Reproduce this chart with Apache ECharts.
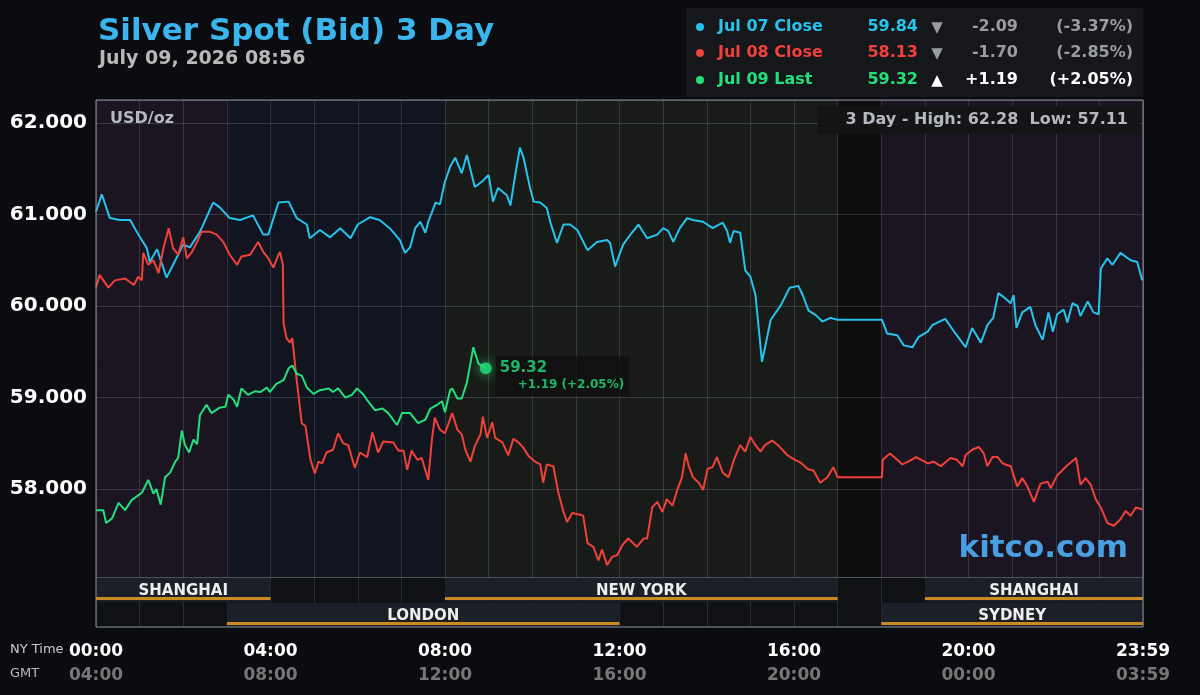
<!DOCTYPE html>
<html>
<head>
<meta charset="utf-8">
<title>Silver Spot (Bid) 3 Day</title>
<script src="https://cdn.jsdelivr.net/npm/echarts@6/dist/echarts.min.js"></script>
<style>
    html, body { margin: 0; padding: 0; background: #0b0c10; }
    #chart { width: 1200px; height: 695px; }
</style>
</head>
<body>
<div id="chart"></div>
<script>
var FONT = '"DejaVu Sans", sans-serif';
var BLUE = '#27c3ec';
var RED = '#f0413a';
var GREEN = '#22e07c';

// minutes after 00:00 NY time, price in USD/oz
var jul07Min = [0, 8, 19, 33, 47, 56, 70, 74, 84, 97, 106, 120, 129, 143, 161, 170, 184, 198, 216, 230, 237, 251, 265, 276, 290, 294, 308, 322, 336, 350, 360, 377, 390, 404, 418, 425, 432, 439, 446, 453, 457, 467, 473, 480, 487, 494, 503, 510, 521, 531, 540, 546, 553, 565, 570, 577, 583, 588, 597, 602, 611, 620, 625, 634, 643, 652, 662, 676, 689, 703, 707, 714, 718, 725, 735, 746, 758, 772, 780, 787, 794, 803, 813, 821, 835, 848, 862, 868, 872, 877, 886, 893, 900, 907, 916, 928, 942, 954, 966, 972, 980, 990, 999, 1010, 1020, 1081, 1088, 1102, 1111, 1123, 1131, 1144, 1150, 1168, 1182, 1196, 1205, 1217, 1226, 1234, 1241, 1248, 1258, 1262, 1266, 1274, 1285, 1292, 1302, 1310, 1316, 1322, 1331, 1336, 1343, 1350, 1354, 1364, 1372, 1379, 1382, 1391, 1398, 1409, 1423, 1432, 1439];
var jul07Price = [61.03, 61.22, 60.96, 60.94, 60.94, 60.81, 60.63, 60.48, 60.62, 60.31, 60.45, 60.67, 60.64, 60.81, 61.13, 61.08, 60.96, 60.94, 60.99, 60.78, 60.78, 61.13, 61.14, 60.96, 60.89, 60.74, 60.83, 60.75, 60.85, 60.74, 60.89, 60.97, 60.94, 60.85, 60.72, 60.58, 60.64, 60.85, 60.92, 60.80, 60.92, 61.13, 61.11, 61.36, 61.52, 61.62, 61.45, 61.65, 61.30, 61.36, 61.43, 61.14, 61.29, 61.21, 61.10, 61.45, 61.73, 61.62, 61.29, 61.14, 61.13, 61.07, 60.91, 60.69, 60.89, 60.89, 60.83, 60.61, 60.70, 60.72, 60.69, 60.43, 60.52, 60.67, 60.78, 60.89, 60.74, 60.78, 60.85, 60.82, 60.70, 60.85, 60.96, 60.94, 60.92, 60.85, 60.91, 60.82, 60.69, 60.82, 60.80, 60.39, 60.32, 60.12, 59.39, 59.85, 60.01, 60.20, 60.22, 60.12, 59.95, 59.90, 59.83, 59.87, 59.85, 59.85, 59.70, 59.68, 59.57, 59.55, 59.66, 59.72, 59.79, 59.86, 59.70, 59.55, 59.76, 59.60, 59.79, 59.87, 60.14, 60.10, 60.03, 60.12, 59.76, 59.93, 59.99, 59.79, 59.63, 59.93, 59.72, 59.91, 59.96, 59.82, 60.03, 60.00, 59.89, 60.05, 59.93, 59.91, 60.41, 60.52, 60.45, 60.58, 60.50, 60.48, 60.28];

var jul08Min = [0, 5, 17, 26, 40, 52, 58, 63, 65, 72, 79, 86, 93, 100, 106, 113, 120, 125, 132, 139, 145, 157, 166, 175, 184, 194, 200, 212, 223, 230, 237, 244, 251, 253, 257, 258, 262, 267, 270, 276, 283, 288, 295, 301, 306, 311, 317, 326, 333, 340, 347, 356, 363, 373, 380, 388, 395, 409, 416, 423, 428, 434, 442, 448, 457, 462, 466, 473, 480, 490, 497, 503, 508, 515, 521, 529, 532, 538, 545, 549, 559, 567, 574, 581, 588, 595, 604, 611, 615, 620, 629, 636, 643, 648, 655, 666, 670, 676, 684, 691, 696, 703, 710, 717, 724, 732, 744, 753, 758, 765, 772, 779, 785, 793, 799, 806, 811, 815, 821, 829, 835, 841, 848, 854, 862, 870, 877, 886, 893, 900, 907, 914, 920, 930, 938, 951, 959, 969, 979, 987, 996, 1006, 1014, 1020, 1081, 1082, 1092, 1102, 1109, 1117, 1128, 1144, 1152, 1162, 1175, 1184, 1192, 1196, 1205, 1214, 1221, 1226, 1233, 1240, 1247, 1258, 1267, 1274, 1281, 1290, 1299, 1309, 1313, 1322, 1336, 1348, 1354, 1361, 1368, 1375, 1382, 1391, 1400, 1409, 1416, 1423, 1430, 1439];
var jul08Price = [60.20, 60.34, 60.20, 60.28, 60.30, 60.23, 60.32, 60.28, 60.58, 60.45, 60.50, 60.36, 60.64, 60.85, 60.63, 60.56, 60.75, 60.52, 60.59, 60.70, 60.81, 60.81, 60.78, 60.70, 60.56, 60.45, 60.54, 60.56, 60.70, 60.59, 60.52, 60.42, 60.56, 60.59, 60.45, 59.81, 59.65, 59.60, 59.65, 59.19, 58.72, 58.69, 58.32, 58.17, 58.30, 58.28, 58.40, 58.43, 58.61, 58.50, 58.48, 58.23, 58.40, 58.35, 58.62, 58.40, 58.52, 58.51, 58.42, 58.42, 58.21, 58.42, 58.32, 58.34, 58.10, 58.54, 58.78, 58.65, 58.61, 58.83, 58.65, 58.60, 58.43, 58.30, 58.47, 58.60, 58.79, 58.56, 58.73, 58.56, 58.51, 58.37, 58.55, 58.51, 58.45, 58.36, 58.30, 58.27, 58.07, 58.27, 58.25, 57.96, 57.75, 57.64, 57.74, 57.72, 57.71, 57.41, 57.37, 57.22, 57.34, 57.17, 57.26, 57.28, 57.39, 57.46, 57.37, 57.46, 57.46, 57.80, 57.86, 57.75, 57.89, 57.82, 57.98, 58.13, 58.39, 58.26, 58.13, 58.07, 57.99, 58.22, 58.24, 58.35, 58.18, 58.13, 58.31, 58.48, 58.41, 58.57, 58.48, 58.41, 58.48, 58.53, 58.48, 58.37, 58.33, 58.29, 58.22, 58.20, 58.07, 58.13, 58.24, 58.13, 58.13, 58.32, 58.39, 58.32, 58.27, 58.30, 58.35, 58.28, 58.30, 58.25, 58.34, 58.32, 58.25, 58.37, 58.43, 58.46, 58.39, 58.25, 58.35, 58.35, 58.28, 58.25, 58.03, 58.12, 58.03, 57.86, 58.06, 58.08, 58.01, 58.15, 58.26, 58.34, 58.05, 58.12, 58.05, 57.89, 57.80, 57.63, 57.60, 57.67, 57.76, 57.71, 57.80, 57.78];

var jul09Min = [0, 10, 14, 22, 31, 40, 49, 63, 72, 79, 83, 89, 95, 102, 109, 113, 118, 122, 128, 134, 139, 143, 152, 159, 170, 178, 182, 189, 194, 200, 209, 219, 226, 235, 239, 248, 258, 265, 270, 276, 283, 290, 299, 308, 320, 326, 333, 343, 352, 359, 368, 374, 384, 394, 402, 414, 421, 432, 443, 453, 460, 469, 476, 480, 487, 490, 497, 503, 510, 519, 526, 536];
var jul09Price = [57.77, 57.77, 57.63, 57.68, 57.85, 57.77, 57.88, 57.96, 58.10, 57.95, 58.00, 57.83, 58.13, 58.18, 58.30, 58.34, 58.64, 58.49, 58.40, 58.54, 58.49, 58.81, 58.92, 58.83, 58.89, 58.90, 59.03, 58.98, 58.90, 59.10, 59.03, 59.07, 59.06, 59.11, 59.06, 59.15, 59.19, 59.32, 59.35, 59.26, 59.24, 59.11, 59.04, 59.08, 59.10, 59.06, 59.10, 59.00, 59.03, 59.10, 59.03, 58.96, 58.86, 58.88, 58.83, 58.70, 58.83, 58.83, 58.72, 58.76, 58.88, 58.92, 58.96, 58.84, 59.08, 59.10, 58.99, 58.99, 59.16, 59.55, 59.37, 59.32];

var legendNames = ['Jul 07 Close', 'Jul 08 Close', 'Jul 09 Last'];
var legendPrices = ['59.84', '58.13', '59.32'];
var legendArrows = ['▼', '▼', '▲'];
var legendChanges = ['-2.09', '-1.70', '+1.19'];
var legendPcts = ['(-3.37%)', '(-2.85%)', '(+2.05%)'];

var nyLabels = ['00:00', '04:00', '08:00', '12:00', '16:00', '20:00', '23:59'];
var gmtLabels = ['04:00', '08:00', '12:00', '16:00', '20:00', '00:00', '03:59'];

// market session shading behind the lines (minutes)
var bandStart = [0, 180, 480, 1020, 1080];
var bandEnd = [180, 480, 1020, 1080, 1440];
var bandColors = ['rgba(44,30,50,0.5)', 'rgba(23,30,46,0.5)', 'rgba(37,42,30,0.5)', 'rgba(17,16,14,0.5)', 'rgba(44,30,50,0.5)'];

// session bars under the chart
var sessionNames = ['SHANGHAI', 'NEW YORK', 'SHANGHAI', 'LONDON', 'SYDNEY'];
var sessionStart = [0, 480, 1140, 180, 1080];
var sessionEnd = [240, 1020, 1440, 720, 1440];
var sessionRow = [0, 0, 0, 1, 1];

function zip(a, b) {
    return a.map(function (t, i) { return [t, b[i]]; });
}

var chart = echarts.init(document.getElementById('chart'));

var bands = bandStart.map(function (s, i) {
    return [{xAxis: s, itemStyle: {color: bandColors[i]}}, {xAxis: bandEnd[i]}];
});

function txt(x, y, text, color, size, align, weight) {
    return {
        type: 'text', x: x, y: y, silent: true,
        style: {
            text: text, fill: color,
            font: (weight || 'bold') + ' ' + size + 'px ' + FONT,
            align: align || 'left', textAlign: align || 'left',
            verticalAlign: 'middle', textVerticalAlign: 'middle'
        }
    };
}

var graphics = [
    {type: 'rect', shape: {x: 686, y: 8, width: 457, height: 89}, style: {fill: '#15171b'}, silent: true},
    {type: 'rect', shape: {x: 818, y: 106, width: 322, height: 28}, style: {fill: 'rgba(20,20,22,0.92)'}, silent: true, z: 10},
    {type: 'rect', shape: {x: 96, y: 100, width: 1047, height: 527}, style: {fill: null, stroke: '#8e929b', lineWidth: 1}, silent: true, z: 10}
];
var lineColors = [BLUE, RED, GREEN];
var rowY = [27, 53, 80];
legendNames.forEach(function (n, i) {
    var dim = i < 2 ? '#9a9ca2' : '#ffffff';
    graphics.push({type: 'circle', shape: {cx: 700, cy: rowY[i], r: 4}, style: {fill: lineColors[i]}, silent: true});
    graphics.push(txt(718, rowY[i], n, lineColors[i], 16));
    graphics.push(txt(918, rowY[i], legendPrices[i], lineColors[i], 16, 'right'));
    graphics.push(txt(937, rowY[i] + 1, legendArrows[i], dim, 15, 'center'));
    graphics.push(txt(1018, rowY[i], legendChanges[i], dim, 16, 'right'));
    graphics.push(txt(1133, rowY[i], legendPcts[i], dim, 16, 'right'));
});
var topTexts = [
    txt(110, 119, 'USD/oz', '#b4b8c0', 16),
    txt(1128, 120, '3 Day - High: 62.28  Low: 57.11', '#b4b8c0', 16, 'right'),
    txt(1128, 549, 'kitco.com', '#4a9ee2', 31, 'right'),
    txt(10, 650, 'NY Time', '#cccccc', 13, 'left', 'normal'),
    txt(10, 674, 'GMT', '#bbbbbb', 13, 'left', 'normal')
];
topTexts.forEach(function (t) { t.z = 11; graphics.push(t); });

function renderSession(params, api) {
    var row = api.value(2);
    var p0 = api.coord([api.value(0), row]);
    var p1 = api.coord([api.value(1), row + 1]);
    var x0 = p0[0], x1 = p1[0], top = p0[1], bot = p1[1];
    return {
        type: 'group',
        children: [
            {type: 'rect', shape: {x: x0, y: top + 1, width: x1 - x0, height: bot - top - 1}, style: {fill: '#1b1f28'}},
            {type: 'rect', shape: {x: x0, y: top + 20, width: x1 - x0, height: 3}, style: {fill: '#c98a22'}},
            {
                type: 'text',
                style: {
                    text: sessionNames[params.dataIndex], x: (x0 + x1) / 2, y: top + 14,
                    fill: '#eeeeee', font: 'bold 15px ' + FONT,
                    align: 'center', textAlign: 'center', verticalAlign: 'middle', textVerticalAlign: 'middle'
                }
            }
        ]
    };
}

var option = {
    backgroundColor: '#0b0c10',
    animation: false,
    title: [
        {text: 'Silver Spot (Bid) 3 Day', left: 93, top: 11, textStyle: {color: '#3bb5ee', fontSize: 31, fontWeight: 'bold', fontFamily: FONT}},
        {text: 'July 09, 2026 08:56', left: 94, top: 45, textStyle: {color: '#b8b8b8', fontSize: 19, fontWeight: 'bold', fontFamily: FONT}}
    ],
    grid: [
        {left: 96, top: 100, width: 1047, height: 477},
        {left: 96, top: 577, width: 1047, height: 50, show: true, backgroundColor: '#0f1115', borderWidth: 0}
    ],
    xAxis: [
        {
            type: 'value', gridIndex: 0, min: 0, max: 1440, interval: 60,
            axisLine: {show: false}, axisTick: {show: false}, axisLabel: {show: false},
            splitLine: {show: true, lineStyle: {color: 'rgba(140,146,160,0.45)', width: 1}}
        },
        {
            type: 'value', gridIndex: 1, min: 0, max: 1440, interval: 60,
            axisLine: {show: false}, axisTick: {show: false},
            splitLine: {show: true, lineStyle: {color: 'rgba(120,126,140,0.25)', width: 1}},
            axisLabel: {
                show: true, margin: 13, showMinLabel: true, showMaxLabel: true,
                formatter: function (v) {
                    if (v % 240 !== 0) return '';
                    var i = v / 240;
                    return '{ny|' + nyLabels[i] + '}\n{gmt|' + gmtLabels[i] + '}';
                },
                rich: {
                    ny: {color: '#ffffff', fontSize: 17, fontWeight: 'bold', fontFamily: FONT, lineHeight: 24},
                    gmt: {color: '#777777', fontSize: 17, fontWeight: 'bold', fontFamily: FONT, lineHeight: 24}
                }
            }
        }
    ],
    yAxis: [
        {
            type: 'value', gridIndex: 0, min: 57.04, max: 62.25,
            axisLine: {show: false}, axisTick: {show: false},
            splitLine: {show: true, lineStyle: {color: 'rgba(140,146,160,0.5)', width: 1}},
            axisLabel: {
                show: true, margin: 9, showMinLabel: false, showMaxLabel: false,
                color: '#ffffff', fontSize: 20, fontWeight: 'bold', fontFamily: FONT,
                padding: [3, 0, 0, 0],
                formatter: function (v) { return v.toFixed(3); }
            }
        },
        {type: 'value', gridIndex: 1, min: 0, max: 2, inverse: true, show: false}
    ],
    graphic: graphics,
    series: [
        {
            type: 'line', xAxisIndex: 0, yAxisIndex: 0, data: [], z: 1, silent: true,
            markArea: {silent: true, data: bands}
        },
        {
            name: 'Jul 07 Close', type: 'line', data: zip(jul07Min, jul07Price), showSymbol: false,
            lineStyle: {color: BLUE, width: 2}, itemStyle: {color: BLUE}
        },
        {
            name: 'Jul 08 Close', type: 'line', data: zip(jul08Min, jul08Price), showSymbol: false,
            lineStyle: {color: RED, width: 2}, itemStyle: {color: RED}
        },
        {
            name: 'Jul 09 Last', type: 'line', data: zip(jul09Min, jul09Price), showSymbol: false,
            lineStyle: {color: GREEN, width: 2}, itemStyle: {color: GREEN}
        },
        {
            type: 'scatter', z: 5,
            data: [[jul09Min[jul09Min.length - 1], jul09Price[jul09Price.length - 1]]],
            symbolSize: 12,
            itemStyle: {color: GREEN, shadowBlur: 12, shadowColor: GREEN},
            label: {
                show: true, position: 'right', distance: 4, offset: [0, 8],
                backgroundColor: 'rgba(14,14,14,0.9)', padding: [3, 5, 4, 4],
                formatter: function () {
                    return '{p|' + legendPrices[2] + '}\n{c|' + legendChanges[2] + ' ' + legendPcts[2] + '}';
                },
                rich: {
                    p: {color: GREEN, fontSize: 15, fontWeight: 'bold', fontFamily: FONT, lineHeight: 18},
                    c: {color: GREEN, fontSize: 12, fontWeight: 'bold', fontFamily: FONT, lineHeight: 15, padding: [0, 0, 0, 18]}
                }
            }
        },
        {
            type: 'custom', xAxisIndex: 1, yAxisIndex: 1, clip: false, silent: true,
            renderItem: renderSession,
            encode: {x: [0, 1], y: 2},
            data: sessionStart.map(function (s, i) { return [s, sessionEnd[i], sessionRow[i]]; })
        }
    ]
};

chart.setOption(option);
</script>
</body>
</html>
